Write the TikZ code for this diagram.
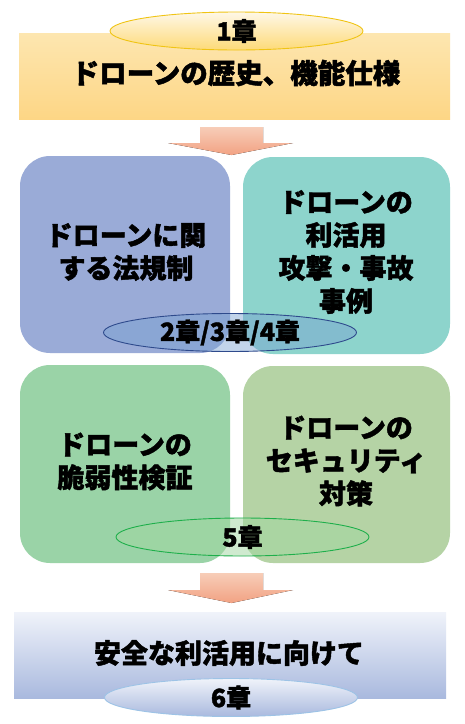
\documentclass[tikz,border=0pt]{standalone}
\usepackage{fontspec}
\setmainfont{Noto Sans CJK JP}[BoldFeatures={FakeBold=1.6}]
\usetikzlibrary{shapes.geometric}
\definecolor{cPurple}{HTML}{9AABD7}
\definecolor{cTeal}{HTML}{8DD4CC}
\definecolor{cGreen}{HTML}{9AD3A7}
\definecolor{cOlive}{HTML}{B5D3A5}
\definecolor{cYelTop}{HTML}{FDE6B0}
\definecolor{cYelBot}{HTML}{FDD685}
\definecolor{cArrTop}{HTML}{F7CDB8}
\definecolor{cArrBot}{HTML}{F2A283}
\definecolor{cBlueTop}{HTML}{F0F3FA}
\definecolor{cBlueBot}{HTML}{A9B9DE}
\begin{document}
\begin{tikzpicture}[x=1pt,y=-1pt,
  maintxt/.style={font=\fontsize{27}{33}\selectfont\bfseries, align=center, inner sep=0pt},
  labtxt/.style={font=\fontsize{25}{26}\selectfont\bfseries, inner sep=0pt},
  rbox/.style={rounded corners=30pt, inner sep=0pt},
  sbox/.style={inner sep=0pt},
  chap/.style={ellipse, inner sep=0pt, minimum width=253pt, minimum height=38pt, line width=0.9pt},
  bigarrow/.style={top color=cArrTop, bottom color=cArrBot, draw=none}
]
\path[use as bounding box, fill=white] (0,0) rectangle (464,724);

% top box
\node[sbox, top color=cYelTop, bottom color=cYelBot, minimum width=431pt, minimum height=86pt] (b1) at (234.5,76) {};
\node[maintxt, font=\fontsize{27.5}{33}\selectfont\bfseries] (t1) at (236,73) {ドローンの歴史、機能仕様};
\node[chap, top color=white!70!cYelTop, bottom color=cYelBot!90!yellow, draw={rgb,255:red,240;green,196;blue,20}] (e1) at (236.5,31) {};
\node[labtxt] (l1) at (236.5,31) {1章};

% arrow 1
\coordinate (a1) at (231.5,127);
\fill[bigarrow] ([shift={(-31.5,0)}]a1) -- ([shift={(31.5,0)}]a1) -- ([shift={(31.5,16)}]a1) -- ([shift={(61.5,16)}]a1)
  -- ([shift={(0,28)}]a1) -- ([shift={(-63.5,16)}]a1) -- ([shift={(-31.5,16)}]a1) -- cycle;

% row 2
\node[rbox, fill=cPurple, minimum width=210pt, minimum height=197pt] (b2) at (125,254.5) {};
\node[rbox, fill=cTeal, minimum width=207pt, minimum height=197pt] (b3) at (346.5,255.5) {};
\node[maintxt] (t2) at (126,252) {ドローンに関\\する法規制};
\node[maintxt] (t3) at (346,252) {ドローンの\\利活用\\攻撃・事故\\事例};
\node[chap, fill={rgb,255:red,120;green,160;blue,210}, fill opacity=0.45, draw={rgb,255:red,46;green,74;blue,140}] (e2) at (230,332.5) {};
\node[labtxt] (l2) at (230,332.5) {2章/3章/4章};

% row 3
\node[rbox, fill=cGreen, minimum width=210pt, minimum height=198pt] (b4) at (125,464) {};
\node[rbox, fill=cOlive, minimum width=207pt, minimum height=197pt] (b5) at (346.5,464.5) {};
\node[maintxt] (t4) at (125,461.5) {ドローンの\\脆弱性検証};
\node[maintxt] (t5) at (346,461) {ドローンの\\セキュリティ\\対策};
\node[chap, fill={rgb,255:red,160;green,215;blue,160}, fill opacity=0.5, draw={rgb,255:red,30;green,175;blue,75}] (e3) at (242.5,537) {};
\node[labtxt] (l3) at (242.5,537) {5章};

% arrow 2
\coordinate (a2) at (231.5,573);
\fill[bigarrow] ([shift={(-31.5,0)}]a2) -- ([shift={(31.5,0)}]a2) -- ([shift={(31.5,17)}]a2) -- ([shift={(61.5,17)}]a2)
  -- ([shift={(0,30)}]a2) -- ([shift={(-63.5,17)}]a2) -- ([shift={(-31.5,17)}]a2) -- cycle;

% bottom box
\node[sbox, top color=cBlueTop, bottom color=cBlueBot, minimum width=432pt, minimum height=86pt] (b6) at (230,655) {};
\node[maintxt] (t6) at (229,653) {安全な利活用に向けて};
\node[chap, top color=cBlueTop, bottom color=cBlueBot, draw={rgb,255:red,157;green,195;blue,230}] (e6) at (231,697.5) {};
\node[labtxt] (l6) at (231,697.5) {6章};
\end{tikzpicture}
\end{document}
